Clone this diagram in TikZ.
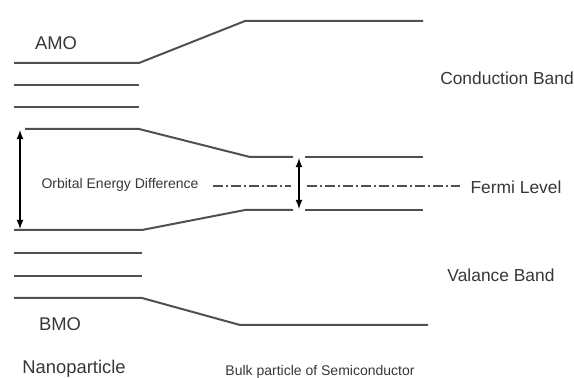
\documentclass[tikz,border=0pt]{standalone}
\usepackage{fontspec}
\setmainfont{Liberation Sans}
\usetikzlibrary{arrows,positioning}
\definecolor{lvl}{RGB}{80,80,80}
\definecolor{txt}{RGB}{55,55,55}

\begin{document}
\begin{tikzpicture}[x=0.5pt,y=-0.5pt,
    level/.style={draw=lvl, line width=1pt},
    fermi/.style={draw=lvl, line width=0.6pt, dash pattern=on 5pt off 1.5pt on 1pt off 1.5pt},
    gap/.style={draw=black, line width=0.6pt, latex-latex},
    lbl/.style={text=txt, inner sep=0pt, font=\fontsize{8.7}{10}\selectfont},
    big/.style={text=txt, inner sep=0pt, font=\fontsize{9.2}{11}\selectfont},
    small/.style={text=txt, inner sep=0pt, font=\fontsize{7}{8}\selectfont}]
\useasboundingbox (0,0) rectangle (574,378);
% nanoparticle levels
\draw[level] (14,63) -- (139,63) -- (245,21) -- (423,21);
\foreach \y in {85,107}
    \draw[level] (14,\y) -- (139,\y);
\draw[level] (25,129) -- (139,129) -- (250,157) -- (293,157);
\draw[level] (305,157) -- (423,157);
\draw[level] (14,230) -- (142,230) -- (245,210) -- (293,210);
\draw[level] (305,210) -- (423,210);
\foreach \y in {253,276}
    \draw[level] (14,\y) -- (142,\y);
\draw[level] (14,298) -- (142,298) -- (240,325) -- (428,325);
% fermi level
\draw[fermi] (213,186) -- (291,186);
\draw[fermi] (307,186) -- (460,186);
% gaps
\coordinate (homo) at (20,130);
\coordinate (lumo) at (20,229);
\coordinate (cb) at (299,158);
\coordinate (vb) at (299,209);
\draw[gap] (homo) -- (lumo);
\draw[gap] (cb) -- (vb);
% labels
\node[big] (amo) at (56,43) {AMO};
\node[big] (bmo) at (60,324) {BMO};
\node[big] (nano) at (74,369) {Nanoparticle};
\node[small] (diff) at (120,185) {Orbital Energy Difference};
\node[small] (bulk) at (320,372) {Bulk particle of Semiconductor};
\node[lbl] (cond) at (507,78) {Conduction Band};
\node[lbl] (fermilbl) at (516,187) {Fermi Level};
\node[lbl] (val) at (501,275) {Valance Band};
\end{tikzpicture}
\end{document}
